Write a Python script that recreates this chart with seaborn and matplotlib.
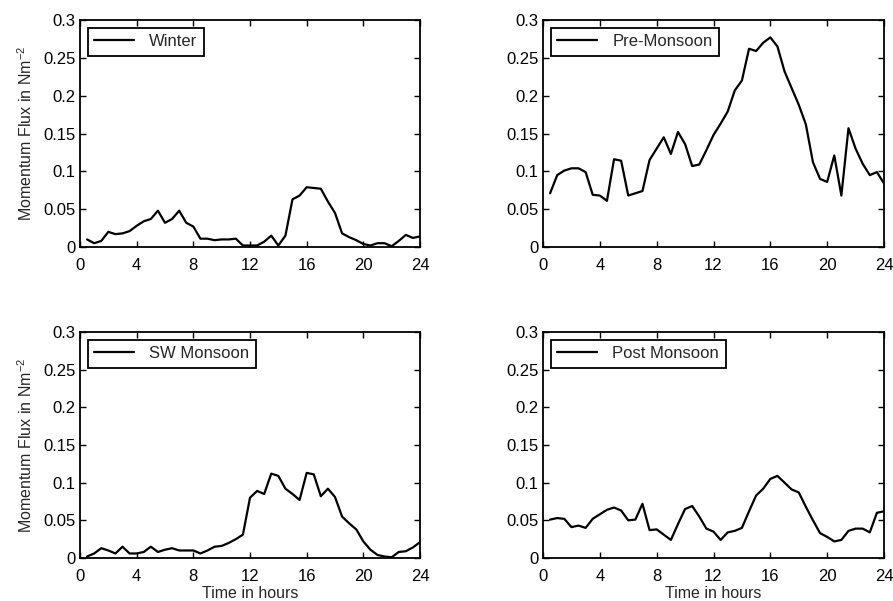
import numpy as np
import pandas as pd
import matplotlib
matplotlib.use("Agg")
import matplotlib.pyplot as plt
import seaborn as sns

hours = [0.5 * i for i in range(1, 49)]

winter = [0.010, 0.005, 0.008, 0.020, 0.017, 0.018, 0.021, 0.028, 0.034, 0.037,
          0.048, 0.032, 0.037, 0.048, 0.032, 0.027, 0.011, 0.011, 0.009, 0.010,
          0.010, 0.011, 0.002, 0.002, 0.002, 0.007, 0.015, 0.002, 0.015, 0.063,
          0.068, 0.079, 0.078, 0.077, 0.060, 0.045, 0.018, 0.013, 0.009, 0.004,
          0.002, 0.005, 0.005, 0.001, 0.008, 0.016, 0.012, 0.014]

pre_monsoon = [0.071, 0.095, 0.101, 0.104, 0.104, 0.099, 0.069, 0.068, 0.061, 0.116,
               0.114, 0.068, 0.071, 0.074, 0.115, 0.130, 0.145, 0.123, 0.152, 0.136,
               0.107, 0.109, 0.128, 0.148, 0.163, 0.179, 0.207, 0.220, 0.262, 0.259,
               0.270, 0.277, 0.265, 0.232, 0.210, 0.188, 0.162, 0.112, 0.090, 0.086,
               0.121, 0.068, 0.157, 0.130, 0.110, 0.095, 0.099, 0.084]

sw_monsoon = [0.002, 0.006, 0.013, 0.010, 0.006, 0.015, 0.006, 0.006, 0.008, 0.015,
              0.008, 0.011, 0.013, 0.010, 0.010, 0.010, 0.006, 0.010, 0.015, 0.016,
              0.020, 0.025, 0.031, 0.080, 0.089, 0.085, 0.112, 0.109, 0.092, 0.085,
              0.077, 0.113, 0.111, 0.082, 0.092, 0.081, 0.055, 0.046, 0.038, 0.022,
              0.011, 0.004, 0.002, 0.001, 0.008, 0.009, 0.014, 0.021]

post_monsoon = [0.051, 0.053, 0.052, 0.041, 0.043, 0.040, 0.052, 0.058, 0.064, 0.067,
                0.063, 0.050, 0.051, 0.072, 0.037, 0.038, 0.031, 0.024, 0.045, 0.065,
                0.069, 0.055, 0.039, 0.035, 0.024, 0.034, 0.036, 0.040, 0.062, 0.083,
                0.092, 0.105, 0.109, 0.100, 0.091, 0.087, 0.068, 0.050, 0.033, 0.028,
                0.022, 0.024, 0.036, 0.039, 0.039, 0.034, 0.060, 0.062]

season_names = ["Winter", "Pre-Monsoon", "SW Monsoon", "Post Monsoon"]
season_values = [winter, pre_monsoon, sw_monsoon, post_monsoon]

x_ticks = [0, 4, 8, 12, 16, 20, 24]
y_ticks = [0, 0.05, 0.1, 0.15, 0.2, 0.25, 0.3]
y_tick_labels = ["0", "0.05", "0.1", "0.15", "0.2", "0.25", "0.3"]

sns.set_style("ticks")
plt.rcParams["font.family"] = ["Liberation Sans", "DejaVu Sans"]
plt.rcParams["mathtext.fontset"] = "custom"
plt.rcParams["mathtext.rm"] = "Liberation Sans"
plt.rcParams["mathtext.it"] = "Liberation Sans"

fig = plt.figure(figsize=(8.93, 6.01), dpi=100)
W, H = 893, 601
boxes = [
    (80, 20, 420, 247),
    (543, 20, 884, 247),
    (80, 332, 420, 558),
    (543, 332, 884, 558),
]

FS = 12
for i, (name, vals) in enumerate(zip(season_names, season_values)):
    x0, y0, x1, y1 = boxes[i]
    ax = fig.add_axes([x0 / W, 1 - y1 / H, (x1 - x0) / W, (y1 - y0) / H])
    df = pd.DataFrame({"hour": hours, "flux": vals})
    sns.lineplot(data=df, x="hour", y="flux", ax=ax, color="black",
                 linewidth=1.6, label=name)
    ax.set_xlim(0, 24)
    ax.set_ylim(0, 0.3)
    ax.set_xticks(x_ticks)
    ax.set_xticklabels([str(t) for t in x_ticks])
    ax.set_yticks(y_ticks)
    ax.set_yticklabels(y_tick_labels)
    ax.tick_params(axis="x", pad=8)
    ax.tick_params(axis="y", pad=3)
    ax.tick_params(direction="in", top=True, right=True, length=4, width=1,
                   labelsize=FS, colors="black")
    for sp in ax.spines.values():
        sp.set_linewidth(1.3)
        sp.set_color("black")
    if i % 2 == 0:
        ax.set_ylabel("Momentum Flux in Nm$^{-2}$", fontsize=11.5, labelpad=6)
    else:
        ax.set_ylabel("")
    if i >= 2:
        ax.set_xlabel("Time in hours", fontsize=11.5, labelpad=1)
    else:
        ax.set_xlabel("")
    leg = ax.legend(loc="upper left", fontsize=FS, frameon=True, fancybox=False,
                    handlelength=2.4, borderpad=0.4, borderaxespad=0.45,
                    handletextpad=0.9)
    leg.get_frame().set_edgecolor("black")
    leg.get_frame().set_linewidth(1.3)
    leg.get_frame().set_alpha(1)

fig.savefig("out.png", dpi=100)
